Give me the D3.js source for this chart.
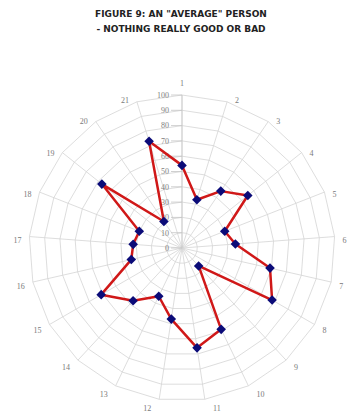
<!DOCTYPE html>
<html>
<head>
<meta charset="utf-8">
<script src="https://cdn.jsdelivr.net/npm/d3@7"></script>
<style>
  html, body { margin: 0; padding: 0; background: #fff; }
  svg { display: block; }
</style>
</head>
<body>
<div id="chart"></div>
<script>
// ---- data ----
const categories = ["1","2","3","4","5","6","7","8","9","10","11","12","13","14","15","16","17","18","19","20","21"];
const values = [54,33,45,55,30,35,59,68,16,59,66,47,35,47,61,34,32,30,67,21,73];
const tickValues = [0,10,20,30,40,50,60,70,80,90,100];
const titleLines = ["FIGURE 9: AN \"AVERAGE\" PERSON", "- NOTHING REALLY GOOD OR BAD"];

// ---- layout ----
const W = 350, H = 412;
const cx = 182, cy = 248, R = 153;

const svg = d3.select("#chart").append("svg").attr("width", W).attr("height", H);

// title
svg.append("g").selectAll("text").data(titleLines).join("text")
  .attr("x", 181).attr("y", (d, i) => 17 + i * 15)
  .attr("text-anchor", "middle")
  .attr("font-family", "DejaVu Sans, Verdana, sans-serif")
  .attr("font-weight", "bold")
  .attr("font-size", "9px")
  .attr("fill", "#222")
  .text(d => d);

const r = d3.scaleLinear().domain([0, 100]).range([0, R]);
const angle = d3.scaleLinear().domain([0, categories.length]).range([0, 2 * Math.PI]);

const g = svg.append("g").attr("transform", `translate(${cx},${cy})`);

const pt = (i, v) => [Math.sin(angle(i)) * r(v), -Math.cos(angle(i)) * r(v)];

// grid polygons
g.append("g").selectAll("path").data(tickValues.filter(t => t > 0)).join("path")
  .attr("d", t => d3.line()(categories.map((c, i) => pt(i, t))) + "Z")
  .attr("fill", "none").attr("stroke", "#d4d4d4").attr("stroke-width", 0.8);

// spokes
g.append("g").selectAll("line").data(categories).join("line")
  .attr("x1", 0).attr("y1", 0)
  .attr("x2", (c, i) => pt(i, 100)[0]).attr("y2", (c, i) => pt(i, 100)[1])
  .attr("stroke", "#d4d4d4").attr("stroke-width", 0.8);

// value axis ticks along spoke 1
const ax = g.append("g");
ax.append("line").attr("x1", 0).attr("x2", 0).attr("y1", 0).attr("y2", -R)
  .attr("stroke", "#c8c8c8").attr("stroke-width", 0.8);
ax.selectAll("line.tk").data(tickValues).join("line").attr("class", "tk")
  .attr("x1", -11).attr("x2", 0).attr("y1", t => -r(t)).attr("y2", t => -r(t))
  .attr("stroke", "#c4c4c4").attr("stroke-width", 0.8);
ax.selectAll("text").data(tickValues).join("text")
  .attr("x", -13).attr("y", t => -r(t))
  .attr("dy", "0.35em")
  .attr("text-anchor", "end")
  .attr("font-family", "Liberation Serif, Times New Roman, serif")
  .attr("font-size", "8px")
  .attr("fill", "#808080")
  .text(t => t);

// category labels
g.append("g").selectAll("text").data(categories).join("text")
  .attr("x", (c, i) => {
    const s = Math.sin(angle(i));
    const p = pt(i, 100);
    return p[0] + (Math.abs(s) < 0.1 ? 0 : Math.sign(s) * (8 + 2 * c.length));
  })
  .attr("y", (c, i) => {
    const s = Math.sin(angle(i)), co = Math.cos(angle(i));
    const p = pt(i, 100);
    return p[1] + (Math.abs(s) < 0.1 ? -Math.sign(co) * 12 : 3.5 - 5 * co);
  })
  .attr("dy", "0.35em")
  .attr("text-anchor", "middle")
  .attr("font-family", "Liberation Serif, Times New Roman, serif")
  .attr("font-size", "8px")
  .attr("fill", "#7a7a7a")
  .text(c => c);

// series line
const line = d3.lineRadial()
  .angle((d, i) => angle(i))
  .radius(d => r(d))
  .curve(d3.curveLinearClosed);
g.append("path").datum(values)
  .attr("d", line)
  .attr("fill", "none")
  .attr("stroke", "#d01818")
  .attr("stroke-width", 2.5)
  .attr("stroke-linejoin", "round");

// markers
g.append("g").selectAll("path").data(values).join("path")
  .attr("d", d3.symbol().type(d3.symbolSquare).size(46))
  .attr("transform", (d, i) => {
    const p = pt(i, d);
    return `translate(${p[0]},${p[1]}) rotate(45)`;
  })
  .attr("fill", "#0b0b78");
</script>
</body>
</html>
